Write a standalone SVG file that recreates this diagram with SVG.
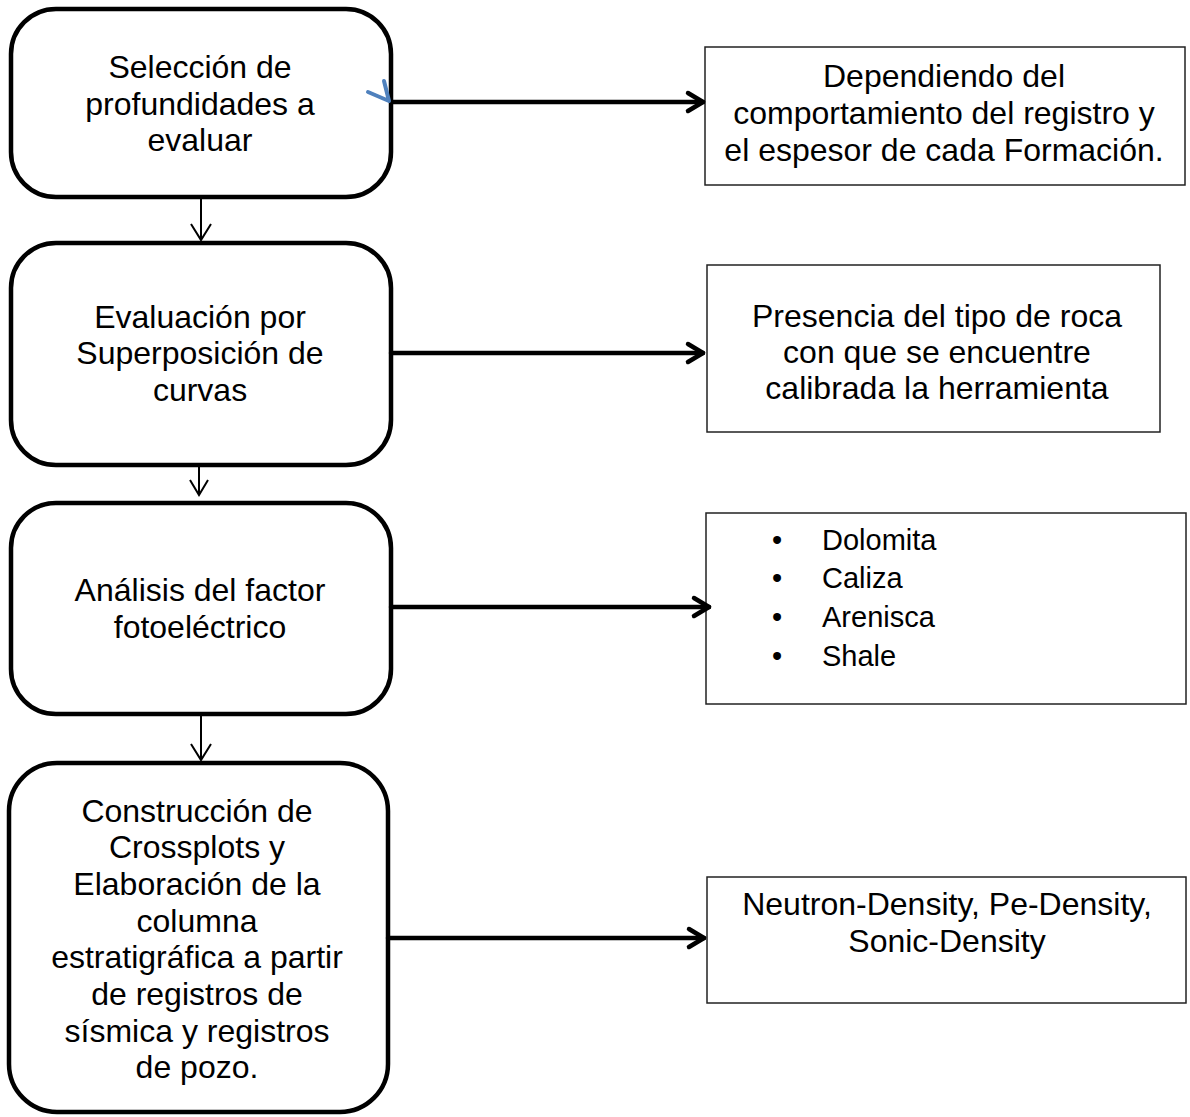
<svg xmlns="http://www.w3.org/2000/svg" width="1190" height="1117" viewBox="0 0 1190 1117">
<style>
.step{fill:#fff;stroke:#000;stroke-width:4.5}
.note{fill:#fff;stroke:#222;stroke-width:1.5}
text{font-family:"Liberation Sans",Arial,sans-serif;fill:#000}
.t{font-size:32px;text-anchor:middle}
.b{font-size:29px}
.thick{stroke:#000;stroke-width:4.5;fill:none;stroke-linecap:round;stroke-linejoin:round}
.thin{stroke:#000;stroke-width:2;fill:none}
</style>
<rect width="1190" height="1117" fill="#fff"/>
<g id="n1"><rect class="step" x="11" y="9" width="380" height="188" rx="45"/>
<text class="t" x="200" y="78">Selección de</text><text class="t" x="200" y="115">profundidades a</text><text class="t" x="200" y="151">evaluar</text></g>
<g id="n2"><rect class="step" x="11" y="243" width="380" height="222" rx="45"/>
<text class="t" x="200" y="328">Evaluación por</text><text class="t" x="200" y="364">Superposición de</text><text class="t" x="200" y="401">curvas</text></g>
<g id="n3"><rect class="step" x="11" y="503" width="380" height="211" rx="45"/>
<text class="t" x="200" y="601">Análisis del factor</text><text class="t" x="200" y="638">fotoeléctrico</text></g>
<g id="n4"><rect class="step" x="9" y="763" width="379" height="349" rx="48"/>
<text class="t" x="197" y="822">Construcción de</text><text class="t" x="197" y="858">Crossplots y</text><text class="t" x="197" y="895">Elaboración de la</text><text class="t" x="197" y="932">columna</text><text class="t" x="197" y="968">estratigráfica a partir</text><text class="t" x="197" y="1005">de registros de</text><text class="t" x="197" y="1042">sísmica y registros</text><text class="t" x="197" y="1078">de pozo.</text></g>
<g id="r1"><rect class="note" x="705" y="47" width="480" height="138"/>
<text class="t" x="944" y="87">Dependiendo del</text><text class="t" x="944" y="124">comportamiento del registro y</text><text class="t" x="944" y="161">el espesor de cada Formación.</text></g>
<g id="r2"><rect class="note" x="707" y="265" width="453" height="167"/>
<text class="t" x="937" y="327">Presencia del tipo de roca</text><text class="t" x="937" y="363">con que se encuentre</text><text class="t" x="937" y="399">calibrada la herramienta</text></g>
<g id="r3"><rect class="note" x="706" y="513" width="480" height="191"/>
<text class="b" x="772" y="550">•</text><text class="b" x="822" y="550">Dolomita</text>
<text class="b" x="772" y="588">•</text><text class="b" x="822" y="588">Caliza</text>
<text class="b" x="772" y="627">•</text><text class="b" x="822" y="627">Arenisca</text>
<text class="b" x="772" y="666">•</text><text class="b" x="822" y="666">Shale</text></g>
<g id="r4"><rect class="note" x="707" y="877" width="479" height="126"/>
<text class="t" x="947" y="915">Neutron-Density, Pe-Density,</text><text class="t" x="947" y="952">Sonic-Density</text></g>
<g id="connectors">
<line class="thick" x1="391" y1="102" x2="703" y2="102"/><polyline class="thick" points="688,93 703,102 688,111"/>
<line class="thick" x1="391" y1="353" x2="703" y2="353"/><polyline class="thick" points="688,344 703,353 688,362"/>
<line class="thick" x1="391" y1="607" x2="709" y2="607"/><polyline class="thick" points="694,598 709,607 694,616"/>
<line class="thick" x1="388" y1="938" x2="704" y2="938"/><polyline class="thick" points="689,929 704,938 689,947"/>
<line class="thin" x1="201" y1="197" x2="201" y2="240"/><polyline class="thin" points="191,224 201,240 211,224"/>
<line class="thin" x1="199" y1="465" x2="199" y2="495"/><polyline class="thin" points="190,480 199,495 208,480"/>
<line class="thin" x1="201" y1="714" x2="201" y2="760"/><polyline class="thin" points="191,744 201,760 211,744"/>
<polyline points="368,92 389,101 384,81" fill="none" stroke="#4f81bd" stroke-width="4" stroke-linecap="round" stroke-linejoin="round"/>
</g>
</svg>
